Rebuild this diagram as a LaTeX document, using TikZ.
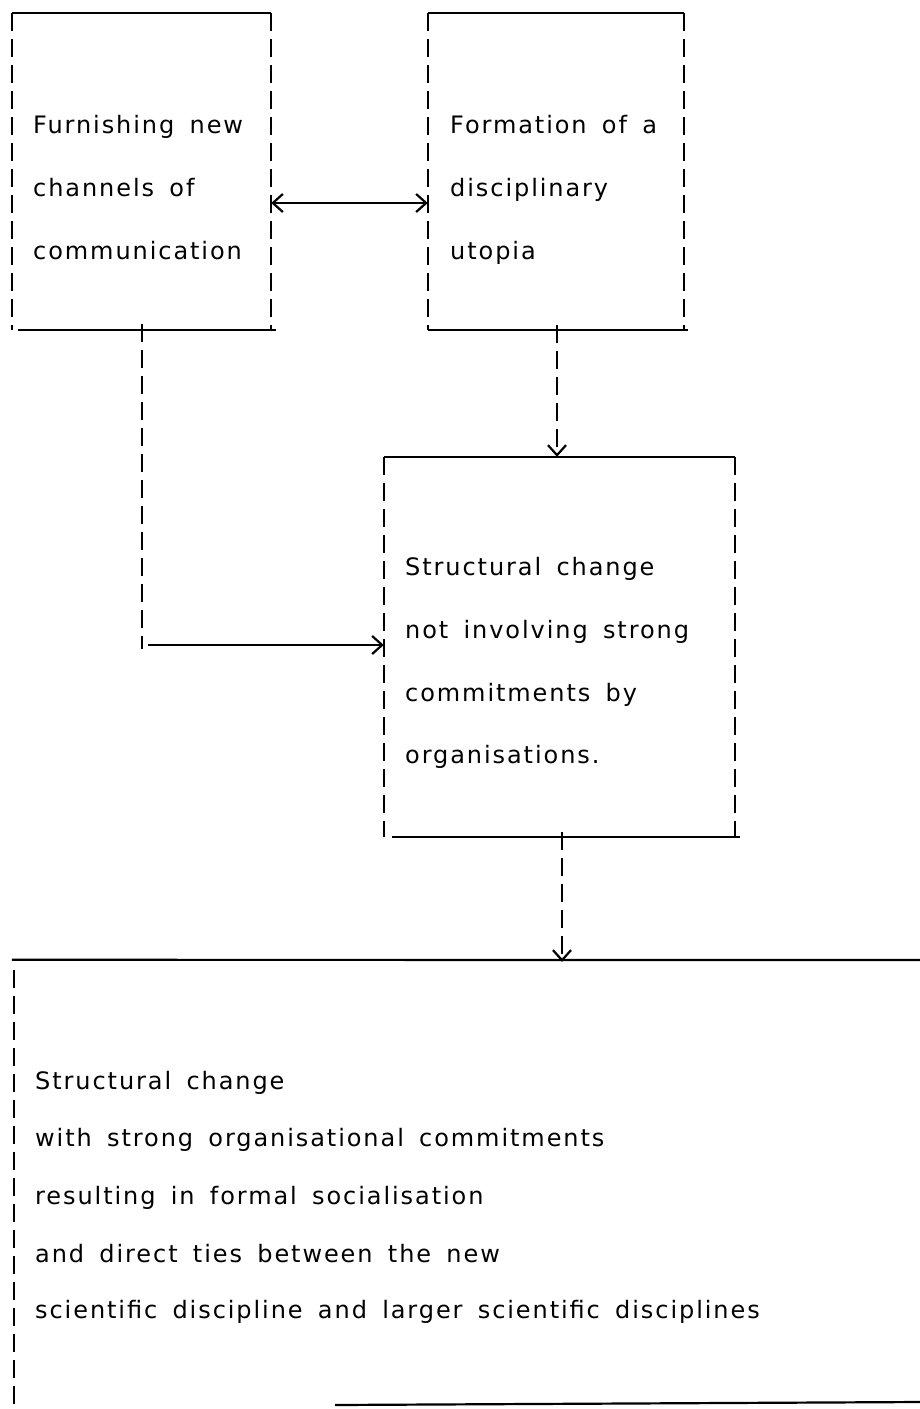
\documentclass[tikz,border=0pt]{standalone}
\usepackage{fontspec}
\setmainfont{DejaVu Sans}[LetterSpace=8,WordSpace=1.6]
\usetikzlibrary{arrows.meta}
\begin{document}
\begin{tikzpicture}[x=1pt,y=-1pt,
  box/.style={draw=none,inner sep=0pt},
  edge/.style={line width=2.2pt},
  side/.style={line width=2.2pt,dash pattern=on 18pt off 8pt},
  txt/.style={anchor=base west,inner sep=0pt,font=\fontsize{24}{28}\selectfont},
  conn/.style={line width=2pt},
  tip/.style={-{Straight Barb[length=10pt,width=18pt,line width=2.2pt]}},
  dtip/.style={{Straight Barb[length=10pt,width=18pt,line width=2.2pt]}-{Straight Barb[length=10pt,width=18pt,line width=2.2pt]}}
]
\useasboundingbox (0,0) rectangle (920,1409);
\fill[white] (0,0) rectangle (920,1409);

% boxes
\node[box,minimum width=259pt,minimum height=317pt] (A) at (141.5,171.5) {};
\node[box,minimum width=256pt,minimum height=317pt] (B) at (556,171.5) {};
\node[box,minimum width=351pt,minimum height=380pt] (C) at (559.5,647) {};
\node[box,minimum width=1000pt,minimum height=442pt] (D) at (514,1183) {};

% box A
\draw[edge] (A.north west) -- (A.north east);
\draw[edge] ([xshift=6pt]A.south west) -- ([xshift=5pt]A.south east);
\draw[side] (A.north west) -- (A.south west);
\draw[side] (A.north east) -- (A.south east);
% box B
\draw[edge] (B.north west) -- (B.north east);
\draw[edge] (B.south west) -- ([xshift=4pt]B.south east);
\draw[side] (B.north west) -- (B.south west);
\draw[side] (B.north east) -- (B.south east);
% box C
\draw[edge] (C.north west) -- (C.north east);
\draw[edge] ([xshift=8pt]C.south west) -- ([xshift=5pt]C.south east);
\draw[side] (C.north west) -- (C.south west);
\draw[side] (C.north east) -- (C.south east);
% box D
\coordinate (Dtr) at (920,960);
\coordinate (Dbl) at (335,1405);
\coordinate (Dbr) at (920,1402);
\draw[edge] ([xshift=-2pt,yshift=2pt]D.north west) -- (Dtr);
\draw[side] ([yshift=-8pt]D.north west) -- ([yshift=-10pt]D.south west);
\draw[edge] (Dbl) -- (Dbr);

% texts
\node[txt] (a1) at (33,133) {Furnishing new};
\node[txt] (a2) at (33,196) {channels of};
\node[txt] (a3) at (33,259) {communication};

\node[txt] (b1) at (450,133) {Formation of a};
\node[txt] (b2) at (450,196) {disciplinary};
\node[txt] (b3) at (450,259) {utopia};

\node[txt] (c1) at (405,575) {Structural change};
\node[txt] (c2) at (405,638) {not involving strong};
\node[txt] (c3) at (405,701) {commitments by};
\node[txt] (c4) at (405,763) {organisations.};

\node[txt] (d1) at (35,1089) {Structural change};
\node[txt] (d2) at (35,1146) {with strong organisational commitments};
\node[txt] (d3) at (35,1204) {resulting in formal socialisation};
\node[txt] (d4) at (35,1262) {and direct ties between the new};
\node[txt] (d5) at (35,1318) {scientific discipline and larger scientific disciplines};

% connectors
\draw[conn,dtip] (A.east |- 0,203) -- (B.west |- 0,203);
\draw[conn,side,tip] ([yshift=5pt]B.south -| 557,0) -- (C.north -| 557,0);
\coordinate (k) at (142,645);
\draw[side] ([yshift=6pt]A.south -| k) -- ([yshift=-4pt]k);
\draw[conn,tip] ([xshift=6pt]k) -- (C.west |- k);
\draw[conn,side,tip] ([yshift=5pt]C.south -| 562,0) -- (D.north -| 562,0);
\end{tikzpicture}
\end{document}
